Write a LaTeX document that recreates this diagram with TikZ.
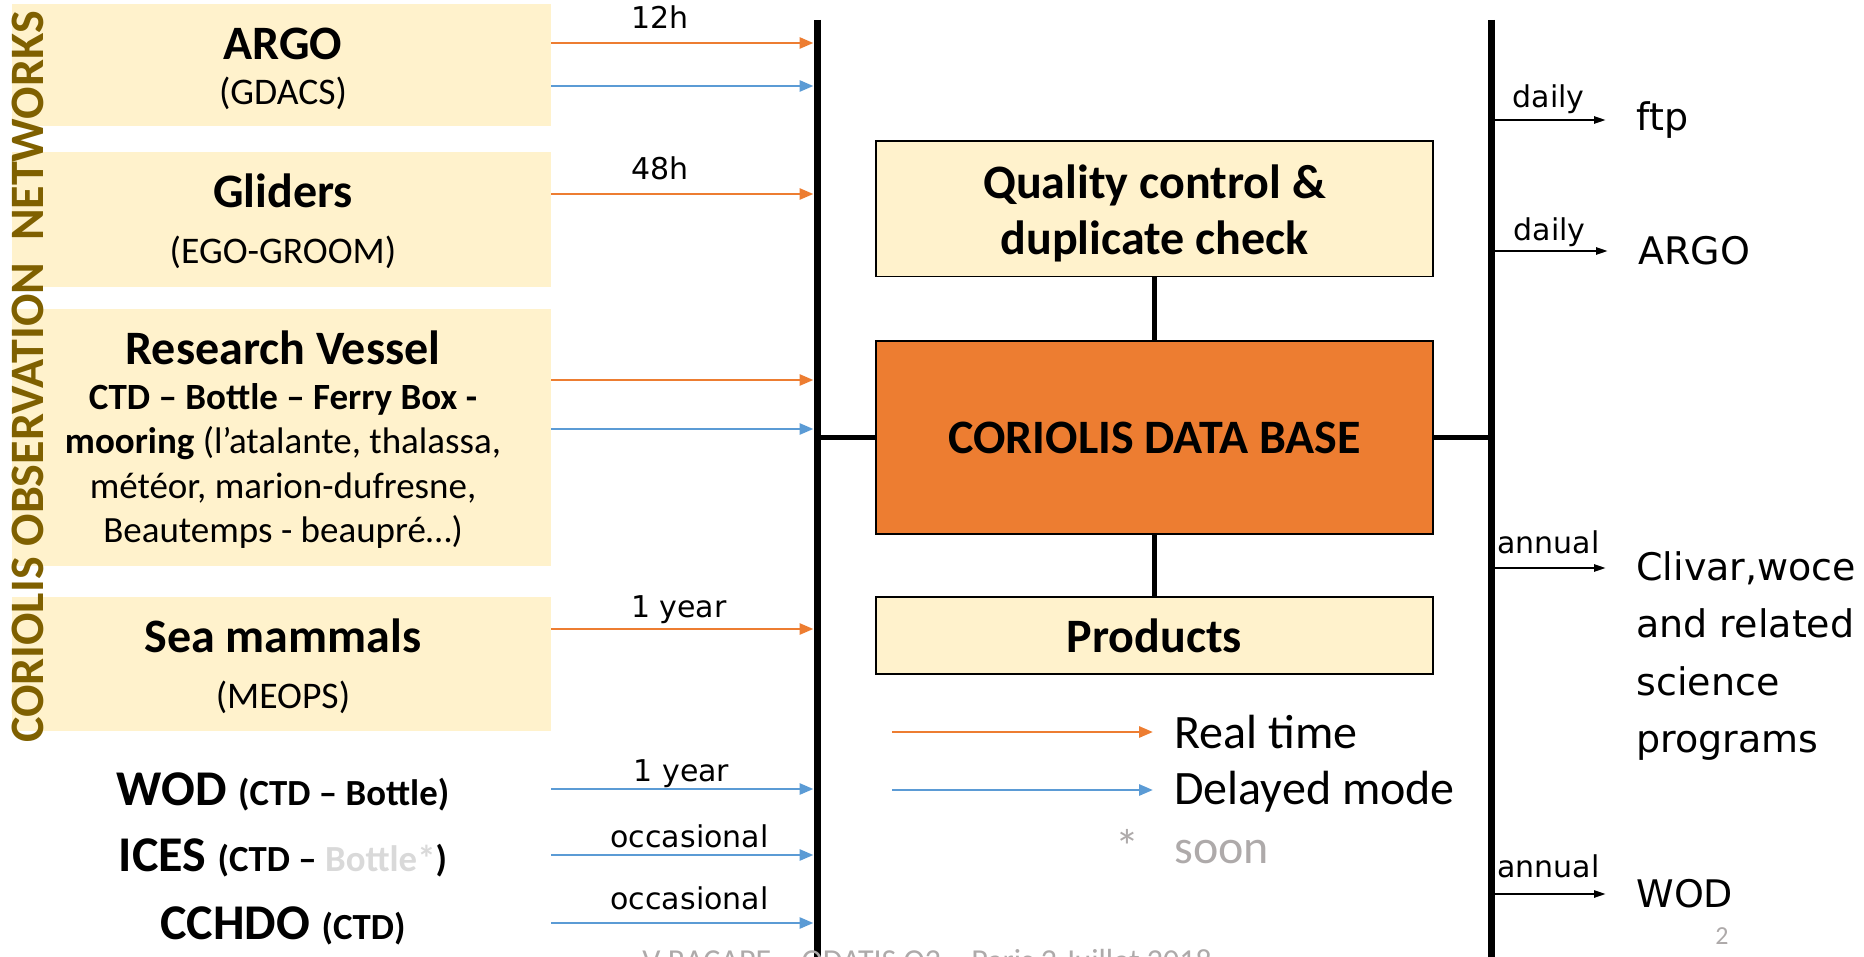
\documentclass[tikz,border=0pt]{standalone}
\usepackage{fontspec}
\setmainfont{Carlito}
\newfontfamily\verd{DejaVu Sans}
\usetikzlibrary{arrows.meta}
\definecolor{CorYellow}{HTML}{FFF2CC}
\definecolor{CorOrange}{HTML}{ED7D31}
\definecolor{CorBlue}{HTML}{5B9BD5}
\definecolor{CorOlive}{HTML}{7F6000}
\definecolor{CorGrey}{HTML}{AEAAAA}
\definecolor{CorLight}{HTML}{D9D9D9}
\newcommand{\fsz}[2]{\fontsize{#1}{#2}\selectfont}

\begin{document}
\begin{tikzpicture}[x=0.5pt,y=-0.5pt,
  srcbox/.style={fill=CorYellow,minimum width=269.5pt,inner sep=0pt},
  srctitle/.style={font=\fsz{24pt}{28pt}\bfseries,inner sep=0pt},
  srcsub/.style={font=\fsz{18.8pt}{22pt},inner sep=0pt},
  archive/.style={font=\fsz{25pt}{30pt}\bfseries,inner sep=0pt},
  stage/.style={draw,line width=0.75pt,fill=CorYellow,minimum width=278.5pt,align=center,font=\fsz{24pt}{28pt}\bfseries},
  bus/.style={line width=3.5pt},
  link/.style={line width=2.25pt},
  rt/.style={draw=CorOrange,line width=1.4pt,-{Triangle[length=7pt,width=5.5pt]}},
  dm/.style={draw=CorBlue,line width=1.4pt,-{Triangle[length=7pt,width=5.5pt]}},
  outarr/.style={line width=1.25pt,-{Triangle[length=6pt,width=3.5pt]}},
  lbl/.style={font=\verd\fsz{15pt}{18pt},anchor=base,inner sep=0pt},
  dest/.style={font=\verd\fsz{19pt}{28.75pt},anchor=west,inner sep=0pt},
  leg/.style={font=\fsz{24pt}{28pt},anchor=west,inner sep=0pt}]
\useasboundingbox (0,0) rectangle (1864,957);
\clip (0,0) rectangle (1864,957);

% observation networks
\node[srcbox,minimum height=61pt] (argo) at (281.5,65) {};
\node[srcbox,minimum height=67.5pt] (gliders) at (281.5,219.5) {};
\node[srcbox,minimum height=128.5pt] (vessel) at (281.5,437.5) {};
\node[srcbox,minimum height=67pt] (mammals) at (281.5,664) {};
\node[srctitle] (argoT) at (283,44) {ARGO};
\node[srcsub] (argoS) at (283,93) {(GDACS)};
\node[srctitle] (glidersT) at (283,191) {Gliders};
\node[srcsub] (glidersS) at (283,252) {(EGO-GROOM)};
\node[srctitle] (vesselT) at (283,348) {Research Vessel};
\node[srcsub,font=\fsz{18.5pt}{22.2pt},align=center] (vesselS) at (283,466)
   {\textbf{CTD – Bottle – Ferry Box -}\\\textbf{mooring} (l’atalante, thalassa,\\météor, marion-dufresne,\\Beautemps - beaupré…)};
\node[srctitle] (mammalsT) at (283,636) {Sea mammals};
\node[srcsub] (mammalsS) at (283,697) {(MEOPS)};
\node[archive] (wod) at (283,792) {WOD {\fsz{18.4pt}{22pt}(CTD – Bottle)}};
\node[archive] (ices) at (283,858) {ICES {\fsz{18.4pt}{22pt}(CTD – \textcolor{CorLight}{Bottle*})}};
\node[archive] (cchdo) at (283,926) {CCHDO {\fsz{18.4pt}{22pt}(CTD)}};
\node[rotate=90,text=CorOlive,inner sep=0pt,font=\fsz{24pt}{28pt}\bfseries] (obsnet) at (28,377)
   {CORIOLIS OBSERVATION\ \ NETWORKS};

% the two buses
\coordinate (busL) at (817,20);
\coordinate (busR) at (1491,20);
\draw[bus] (busL) -- ++(0,950);
\draw[bus] (busR) -- ++(0,950);

\foreach \y/\s/\t/\p/\h in {43/rt/12h/0.41/7,86/dm//0.5/7,194/rt/48h/0.41/7,380/rt//0.5/7,429/dm//0.5/7,%
  629/rt/1 year/0.48/6,789/dm/1 year/0.49/4,855/dm/occasional/0.52/4,923/dm/occasional/0.52/7} {
   \draw[\s,shorten >=1.75pt] (argo.east |- 0,\y) -- (busL |- 0,\y)
      node[lbl,pos=\p,yshift=\h pt] {\t};
}

% coriolis processing
\node[stage,minimum height=67.75pt] (qc) at (1154.5,209) {\rule{0pt}{21pt}Quality control \&\\duplicate check};
\node[stage,fill=CorOrange,minimum height=96.5pt] (db) at (1154.5,437.5) {CORIOLIS DATA BASE};
\node[stage,minimum height=38.5pt] (prod) at (1154.5,635.5) {Products};
\draw[link] (qc) -- (db);
\draw[link] (db) -- (prod);
\draw[link] (busL |- db) -- (db);
\draw[link] (db) -- (busR |- db);

% legend
\node[leg] (rtleg) at (1174,732) {Real time};
\node[leg] (dmleg) at (1174,792) {Delayed mode};
\node[leg,text=CorGrey] (soon) at (1174,852) {soon};
\node[leg,text=CorGrey,anchor=base] (star) at ([xshift=-23.5pt]soon.base west) {*};
\draw[rt] ([xshift=-141pt]rtleg.west) -- ([xshift=-10.5pt]rtleg.west);
\draw[dm] ([xshift=-141pt,yshift=1pt]dmleg.west) -- ([xshift=-10.5pt,yshift=1pt]dmleg.west);

% distribution
\node[dest] (ftp) at (1636,120) {ftp};
\node[dest] (argoout) at (1638,251) {ARGO};
\node[dest,anchor=north west,align=left] (clivar) at (1636,551) {Clivar,woce\\and related\\science\\programs};
\node[dest] (wodout) at (1636,894) {WOD};
\coordinate (clivarIn) at ([yshift=-8.5pt]clivar.north west);
\draw[outarr] (busR |- ftp.west) -- ([xshift=-15pt]ftp.west) node[lbl,midway,yshift=6pt] {daily};
\draw[outarr] (busR |- argoout.west) -- ([xshift=-15pt]argoout.west) node[lbl,midway,yshift=5pt] {daily};
\draw[outarr] (busR |- clivarIn) -- ([xshift=-15pt]clivarIn) node[lbl,midway,yshift=7.2pt] {annual};
\draw[outarr] (busR |- wodout.west) -- ([xshift=-15pt]wodout.west) node[lbl,midway,yshift=8.5pt] {annual};

\node[text=CorGrey,inner sep=0pt,font=\fsz{13pt}{15pt}] (pgnum) at (1722,936) {2};
\node[text=CorGrey,anchor=base west,inner sep=0pt,font=\fsz{16pt}{19pt}] (footer) at (642,971)
   {V RACAPE – ODATIS O2 – Paris 2 Juillet 2018};
\end{tikzpicture}
\end{document}
